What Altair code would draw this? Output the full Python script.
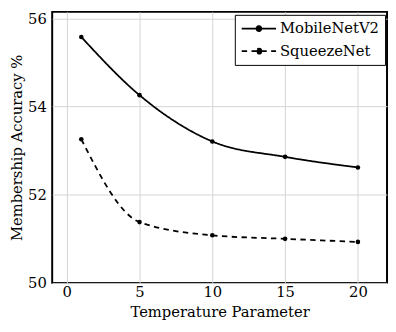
import altair as alt
import pandas as pd

temps = [1, 5, 10, 15, 20]
mobilenet = [55.58, 54.26, 53.21, 52.86, 52.62]
squeezenet = [53.26, 51.38, 51.08, 51.00, 50.93]
series_names = ["MobileNetV2", "SqueezeNet"]
x_ticks = [0, 5, 10, 15, 20]
y_ticks = [50, 52, 54, 56]

rows = []
for t, v in zip(temps, mobilenet):
    rows.append({"T": t, "acc": v, "model": series_names[0]})
for t, v in zip(temps, squeezenet):
    rows.append({"T": t, "acc": v, "model": series_names[1]})
df = pd.DataFrame(rows)

FONT = "DejaVu Serif"
sym = "M-2.5,0L2.5,0M0.36,0A0.36,0.36,0,1,1,-0.36,0A0.36,0.36,0,1,1,0.36,0Z"

x = alt.X("T:Q", scale=alt.Scale(domain=[-1, 22], nice=False, zero=False),
          axis=alt.Axis(values=x_ticks, title="Temperature Parameter", tickSize=0,
                        labelPadding=2, titlePadding=5, domain=False,
                        gridColor="#d4d4d4", gridWidth=1))
y = alt.Y("acc:Q", scale=alt.Scale(domain=[50, 56.15], nice=False, zero=False),
          axis=alt.Axis(values=y_ticks, title="Membership Accuracy %", tickSize=0,
                        labelPadding=6, titlePadding=3, domain=False,
                        gridColor="#d4d4d4", gridWidth=1))

lines = alt.Chart(df).mark_line(interpolate="monotone", color="black", strokeWidth=1.8).encode(
    x=x, y=y,
    strokeDash=alt.StrokeDash("model:N",
        scale=alt.Scale(domain=series_names, range=[[1, 0], [5.5, 4.5]]),
        legend=alt.Legend(title=None, orient="none", legendX=186, legendY=3,
                          symbolType=sym, symbolSize=196, symbolOffset=10.5,
                          symbolStrokeColor="black",
                          symbolFillColor="black", symbolStrokeWidth=1.8,
                          labelFont=FONT, labelFontSize=15, labelOffset=13.5,
                          fillColor="white", strokeColor="black", padding=6,
                          rowPadding=7, labelColor="black")),
)
points = alt.Chart(df).mark_point(filled=True, color="black", size=22, opacity=1).encode(
    x="T:Q", y="acc:Q", detail="model:N")

chart = (lines + points).properties(
    width=341, height=276,
    autosize=alt.AutoSizeParams(type="none"),
    padding={"left": 45, "top": 1, "right": 1, "bottom": 44},
).configure(font=FONT).configure_axis(
    labelFont=FONT, titleFont=FONT, labelFontSize=15, titleFontSize=15,
    labelColor="black", titleColor="black", titleFontWeight="normal",
).configure_view(stroke="black", strokeWidth=2)

chart.save("out.html", embed_options={"renderer": "svg", "actions": False})
